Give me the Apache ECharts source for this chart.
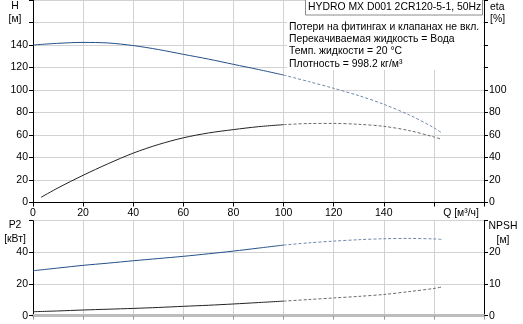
<!DOCTYPE html>
<html>
<head>
<meta charset="utf-8">
<script src="https://cdn.jsdelivr.net/npm/echarts@6/dist/echarts.min.js"></script>
<style>
  html, body { margin: 0; padding: 0; background: #fff; }
  #chart { width: 523px; height: 324px; }
</style>
</head>
<body>
<div id="chart"></div>
<script>
// расход Q, м3/ч
const qFlow = [0, 10, 20, 30, 40, 50, 60, 70, 80, 90, 100, 110, 120, 130, 140, 150, 160, 163]
// напор H, м
const headH = [140, 141.5, 142.3, 141.8, 139.5, 136, 131.7, 127.5, 122.8, 118.2, 113.3, 107.5, 101.5, 95, 87.3, 78, 66.5, 62]
// КПД eta, %
const etaFlow = [3.2, 10, 20, 30, 40, 50, 60, 70, 80, 90, 100, 110, 120, 130, 140, 150, 160, 163]
const etaVals = [4.6, 13, 24.2, 34.5, 43.9, 51.5, 57.5, 61.8, 64.8, 67.4, 69.2, 70.2, 70.3, 69.5, 67.7, 64, 58.3, 56.2]
// мощность P2, кВт
const p2Vals = [28.4, 30.1, 31.8, 33.2, 34.7, 36.1, 37.5, 39.1, 40.8, 42.7, 44.6, 46, 47.1, 48, 48.6, 48.8, 48.5, 48.2]
// NPSH, м
const npshVals = [1.26, 1.5, 1.8, 2.05, 2.3, 2.6, 2.96, 3.3, 3.7, 4.15, 4.6, 5.1, 5.6, 6.1, 6.7, 7.6, 8.6, 9.05]

const solidLimit = 100
const font = 'Liberation Sans, Arial, sans-serif'
const txtFont = '10.4px ' + font

function part(xs, ys, solid) {
  const out = []
  xs.forEach((x, i) => {
    if (solid ? x <= solidLimit : x >= solidLimit) out.push([x, ys[i]])
  })
  return out
}

function curve(name, xs, ys, xi, yi, color, dashColor) {
  return [{
    name: name,
    type: 'line',
    xAxisIndex: xi,
    yAxisIndex: yi,
    data: part(xs, ys, true),
    smooth: 0.3,
    symbol: 'none',
    lineStyle: { color: color, width: 1 },
    silent: true
  }, {
    name: name + '_dash',
    type: 'line',
    xAxisIndex: xi,
    yAxisIndex: yi,
    data: part(xs, ys, false),
    smooth: 0.3,
    symbol: 'none',
    lineStyle: { color: dashColor, width: 1, type: [3, 2] },
    silent: true
  }]
}

function label(text, x, y, align, z) {
  return {
    type: 'text',
    z: z || 100,
    style: { text: text, x: x, y: y, align: align, verticalAlign: 'middle', fill: '#000', font: txtFont }
  }
}

const gridLine = { show: true, lineStyle: { color: '#d2d2d2', width: 1 } }
const labelStyle = { color: '#000', fontSize: 10.5, fontFamily: font }

const chart = echarts.init(document.getElementById('chart'))
chart.setOption({
  animation: false,
  grid: [
    { left: 33, right: 39, top: 0, height: 202.5 },
    { left: 33, right: 39, top: 220.7, height: 95 }
  ],
  xAxis: [{
    gridIndex: 0,
    type: 'value',
    min: 0,
    max: 180,
    interval: 20,
    axisLine: { lineStyle: { color: '#000', width: 1 } },
    axisTick: { length: 4, lineStyle: { color: '#000' } },
    axisLabel: Object.assign({ margin: 5, formatter: v => v <= 140 ? v : '' }, labelStyle),
    splitLine: gridLine
  }, {
    gridIndex: 1,
    type: 'value',
    min: 0,
    max: 180,
    interval: 20,
    axisLine: { lineStyle: { color: '#bdbdbd', width: 3 } },
    axisTick: { length: 4, lineStyle: { color: '#999' } },
    axisLabel: { show: false },
    splitLine: gridLine
  }],
  yAxis: [{
    gridIndex: 0,
    type: 'value',
    min: 0,
    max: 180,
    interval: 20,
    axisLine: { show: true, lineStyle: { color: '#000' } },
    axisTick: { show: true, length: 4, lineStyle: { color: '#000' } },
    axisLabel: Object.assign({ margin: 5, formatter: v => v <= 140 ? v : '' }, labelStyle),
    splitLine: gridLine
  }, {
    gridIndex: 0,
    type: 'value',
    position: 'right',
    min: 0,
    max: 180,
    interval: 20,
    axisLine: { show: true, lineStyle: { color: '#000' } },
    axisTick: { show: true, length: 4, lineStyle: { color: '#000' } },
    axisLabel: Object.assign({ margin: 5, formatter: v => v <= 100 ? v : '' }, labelStyle),
    splitLine: { show: false }
  }, {
    gridIndex: 1,
    type: 'value',
    min: 0,
    max: 60,
    interval: 20,
    axisLine: { show: true, lineStyle: { color: '#000' } },
    axisTick: { show: true, length: 4, lineStyle: { color: '#000' } },
    axisLabel: Object.assign({ margin: 5, formatter: v => v <= 40 ? v : '' }, labelStyle),
    splitLine: gridLine
  }, {
    gridIndex: 1,
    type: 'value',
    position: 'right',
    min: 0,
    max: 30,
    interval: 10,
    axisLine: { show: true, lineStyle: { color: '#000' } },
    axisTick: { show: true, length: 4, lineStyle: { color: '#000' } },
    axisLabel: Object.assign({ margin: 5, formatter: v => v <= 20 ? v : '' }, labelStyle),
    splitLine: { show: false }
  }],
  series: [].concat(
    curve('H', qFlow, headH, 0, 0, '#234f88', '#7088ad'),
    curve('eta', etaFlow, etaVals, 0, 1, '#222', '#6a6a6a'),
    curve('P2', qFlow, p2Vals, 1, 2, '#234f88', '#7088ad'),
    curve('NPSH', qFlow, npshVals, 1, 3, '#222', '#6a6a6a')
  ),
  graphic: [
    label('H', 15, 6, 'center'),
    label('[м]', 15, 19, 'center'),
    label('eta', 490, 7, 'left'),
    label('[%]', 490, 19, 'left'),
    label('P2', 15, 225, 'center'),
    label('[кВт]', 15, 239, 'center'),
    label('NPSH', 503, 226, 'center'),
    label('[м]', 503, 240, 'center'),
    label('Q [м³/ч]', 461, 213, 'center'),
    { type: 'rect', z: 100, shape: { x: 287, y: 16, width: 196, height: 54 }, style: { fill: '#fff' } },
    { type: 'rect', z: 101, shape: { x: 305.5, y: -1, width: 177, height: 16 }, style: { fill: '#fff', stroke: '#8c8c8c', lineWidth: 1 } },
    label('HYDRO MX D001 2CR120-5-1, 50Hz', 308, 7.5, 'left', 102),
    label('Потери на фитингах и клапанах не вкл.', 289, 27, 'left', 102),
    label('Перекачиваемая жидкость = Вода', 289, 39.5, 'left', 102),
    label('Темп. жидкости = 20 °C', 289, 51.5, 'left', 102),
    label('Плотность = 998.2 кг/м³', 289, 64, 'left', 102)
  ]
})
</script>
</body>
</html>
